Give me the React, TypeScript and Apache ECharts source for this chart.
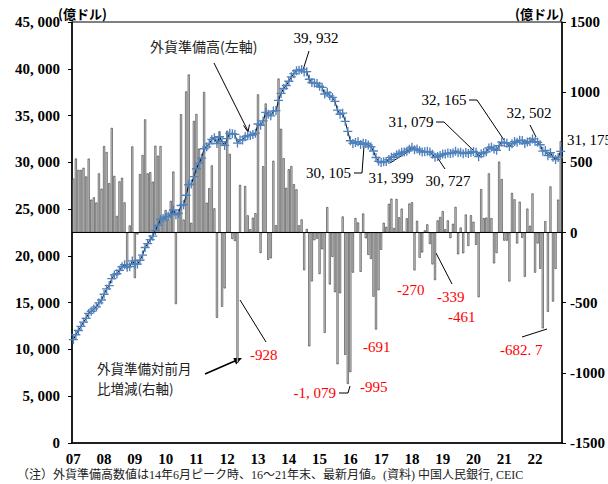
import React, { useEffect, useRef } from "react";
import * as echarts from "echarts";

// Year labels shown on the x axis (January of each year)
const years = ["07", "08", "09", "10", "11", "12", "13", "14", "15", "16", "17", "18", "19", "20", "21", "22"];
const monthsInLastYear = 11; // data ends Nov 2022

// Foreign exchange reserves (億ドル), monthly, Jan 2007 - Nov 2022 (left axis)
const reserves = [
  11047, 11574, 12020, 12466, 12927, 13326, 13852, 14086, 14336, 14549, 14970, 15282,
  15898, 16471, 16822, 17567, 17970, 18088, 18452, 18842, 19056, 18797, 18847, 19460,
  19135, 19121, 19537, 20089, 20895, 21316, 21746, 22108, 22726, 23273, 23888, 23992,
  24152, 24246, 24471, 24905, 24395, 24543, 25386, 25478, 26483, 27609, 27678, 28473,
  29317, 29914, 30447, 31448, 31660, 31975, 32453, 32625, 32017, 32738, 32209, 31811,
  32536, 33096, 33050, 32989, 32061, 32400, 32398, 32729, 32851, 32874, 32979, 33116,
  34100, 33954, 34426, 35345, 35151, 34967, 35478, 35530, 36627, 37366, 37895, 38213,
  38664, 39137, 39481, 39788, 39839, 39932, 39663, 39688, 38877, 38529, 38474, 38430,
  38134, 38015, 37300, 37481, 37111, 36938, 36513, 35574, 35141, 35255, 34383, 33304,
  32309, 32023, 32126, 32197, 31917, 32052, 32011, 31852, 31664, 31207, 30516, 30105,
  29982, 30051, 30091, 30295, 30536, 30568, 30807, 30915, 31085, 31092, 31193, 31399,
  31615, 31345, 31428, 31248, 31106, 31121, 31179, 31097, 30870, 30531, 30617, 30727,
  30879, 30902, 30988, 30948, 31010, 31192, 31037, 31072, 30924, 31052, 30956, 31079,
  31155, 31067, 30606, 30915, 31017, 31123, 31544, 31646, 31426, 31280, 31785, 32165,
  32107, 32049, 31700, 31982, 32218, 32140, 32359, 32321, 32006, 32176, 32224, 32502,
  32216, 32138, 31880, 31197, 31278, 30713, 31041, 30549, 30290, 30524, 31175,
];

// Month-on-month change (億ドル) (right axis)
const changes = [
  384, 527, 446, 446, 461, 399, 526, 234, 250, 213, 421, 312,
  616, 573, 351, 745, 403, 118, 364, 390, 214, -259, 50, 613,
  -325, -14, 416, 552, 806, 421, 430, 362, 618, 547, 615, 104,
  160, 94, 225, 434, -510, 148, 843, 92, 1005, 1126, 69, 795,
  844, 597, 533, 1001, 212, 315, 478, 172, -608, 721, -529, -398,
  725, 560, -46, -61, -928, 339, -2, 331, 122, 23, 105, 137,
  984, -146, 472, 919, -194, -184, 511, 52, 1097, 739, 529, 318,
  451, 473, 344, 307, 51, 93, -269, 25, -811, -348, -55, -44,
  -296, -119, -715, 181, -370, -173, -425, -939, -433, 114, -872, -1079,
  -995, -286, 103, 71, -280, 135, -41, -159, -188, -457, -691, -411,
  -123, 69, 40, 204, 241, 32, 239, 108, 170, 7, 101, 206,
  216, -270, 83, -180, -142, 15, 58, -82, -227, -339, 86, 110,
  152, 23, 86, -40, 62, 182, -155, 35, -148, 128, -96, 123,
  76, -88, -461, 309, 102, 106, 421, 102, -220, -146, 505, 380,
  -58, -58, -349, 282, 236, -78, 219, -38, -315, 170, 48, 278,
  -286, -78, -258, -683, 81, -565, 328, -492, -259, 234, 651,
];

const categories: string[] = [];
years.forEach((y, yi) => {
  const n = yi === years.length - 1 ? monthsInLastYear : 12;
  for (let m = 1; m <= n; m++) categories.push(`20${y}-${String(m).padStart(2, "0")}`);
});

const SERIF = '"Liberation Serif", "Noto Sans CJK JP", serif';
const GOTHIC = '"Noto Sans CJK JP", sans-serif';

const txt = (text: string, x: number, y: number, opts: any = {}) => ({
  type: "text",
  x,
  y,
  silent: true,
  style: {
    text,
    font: opts.font || `15px ${SERIF}`,
    fill: opts.fill || "#000",
    align: opts.align || "left",
    textAlign: opts.align || "left",
    verticalAlign: "middle",
    textVerticalAlign: "middle",
  },
});

const pl = (points: number[][], w = 1) => ({
  type: "polyline",
  silent: true,
  shape: { points },
  style: { stroke: "#000", lineWidth: w, fill: null },
});

const plusSymbol = "path://M-0.9,-6H0.9V-0.9H6V0.9H0.9V6H-0.9V0.9H-6V-0.9H-0.9Z";

export default function App() {
  const ref = useRef<HTMLDivElement>(null);
  useEffect(() => {
    if (!ref.current) return;
    const chart = echarts.init(ref.current, undefined, { renderer: "svg" });
    const red = "#ff0000";
    chart.setOption({
      animation: false,
      backgroundColor: "#fff",
      grid: { left: 72, right: 42, top: 22, bottom: 41, show: true, borderColor: "#000", borderWidth: 1 },
      xAxis: {
        type: "category",
        data: categories,
        boundaryGap: true,
        axisLine: { onZero: false, lineStyle: { color: "#000", width: 1.5 } },
        axisTick: { show: false },
        axisLabel: {
          interval: (i: number) => i % 12 === 0,
          formatter: (v: string) => v.substring(2, 4),
          color: "#000",
          margin: 8,
          fontFamily: SERIF,
          fontSize: 15,
          fontWeight: "bold",
        },
        splitLine: { show: false },
      },
      yAxis: [
        {
          type: "value",
          min: 0,
          max: 45000,
          interval: 5000,
          axisLine: { show: true, lineStyle: { color: "#000", width: 1.5 } },
          axisTick: { show: true, length: 4, lineStyle: { color: "#000" } },
          axisLabel: {
            color: "#000",
            fontFamily: SERIF,
            fontSize: 15,
            fontWeight: "bold",
            margin: 12,
            formatter: (v: number) =>
              v === 0 ? "0" : `${Math.floor(v / 1000)}, ${String(v % 1000).padStart(3, "0")}`,
          },
          splitLine: { show: false },
        },
        {
          type: "value",
          min: -1500,
          max: 1500,
          interval: 500,
          position: "right",
          axisLine: { show: true, lineStyle: { color: "#000", width: 1.5 } },
          axisTick: { show: true, length: 4, lineStyle: { color: "#000" } },
          axisLabel: {
            color: "#000",
            fontFamily: SERIF,
            fontSize: 15,
            fontWeight: "bold",
            margin: 8,
            formatter: (v: number) => String(v),
          },
          splitLine: { show: false },
        },
      ],
      series: [
        {
          type: "bar",
          yAxisIndex: 1,
          data: changes,
          barWidth: 2,
          itemStyle: { color: "#d6d6d6", borderColor: "#111", borderWidth: 0.5 },
          z: 2,
          markLine: {
            silent: true,
            symbol: "none",
            label: { show: false },
            lineStyle: { color: "#000", type: "solid", width: 1 },
            data: [{ yAxis: 0 }],
          },
        },
        {
          type: "line",
          yAxisIndex: 0,
          data: reserves,
          showAllSymbol: true,
          symbol: plusSymbol,
          symbolSize: 9,
          lineStyle: { color: "#000", width: 1 },
          itemStyle: { color: "#4f81bd" },
          z: 3,
        },
      ],
      graphic: [
        txt("(億ドル)", 58, 13, { font: `bold 13px ${GOTHIC}` }),
        txt("(億ドル)", 515, 13, { font: `bold 13px ${GOTHIC}` }),
        txt("外貨準備高(左軸)", 150, 46, { font: `14px ${GOTHIC}`, fill: "#222" }),
        pl([[214, 63], [248, 131]]),
        pl([[243.5, 125.5], [248, 132], [249.5, 124.5]]),
        txt("39, 932", 316, 38, { align: "center" }),
        pl([[309, 51], [303, 70]]),
        txt("30, 105", 351, 173, { align: "right" }),
        pl([[354, 173], [362, 173], [364, 146]]),
        txt("31, 399", 391, 178, { align: "center" }),
        pl([[390, 163], [412, 149]]),
        txt("30, 727", 448, 181, { align: "center" }),
        pl([[437, 157], [445, 169]]),
        txt("31, 079", 411, 122, { align: "center" }),
        pl([[436, 122], [444, 122], [474, 151]]),
        txt("32, 165", 444, 100, { align: "center" }),
        pl([[469, 100], [477, 100], [504, 140]]),
        txt("32, 502", 529, 113, { align: "center" }),
        pl([[530, 125], [536, 137]]),
        txt("31, 175", 567, 140),
        txt("-928", 250, 355, { fill: red }),
        pl([[240, 300], [266, 342]]),
        txt("-1, 079", 336, 393, { fill: red, align: "right" }),
        pl([[339, 393], [348, 393], [350, 386]]),
        txt("-995", 360, 387, { fill: red }),
        txt("-691", 363, 347, { fill: red }),
        txt("-270", 397, 290, { fill: red }),
        txt("-339", 437, 297, { fill: red }),
        pl([[436, 253], [452, 284]]),
        txt("-461", 448, 317, { fill: red }),
        txt("-682. 7", 500, 350, { fill: red }),
        pl([[522, 337], [547, 329]]),
        txt("外貨準備対前月", 97, 368, { font: `13.5px ${GOTHIC}`, fill: "#222" }),
        txt("比増減(右軸)", 97, 388, { font: `13.5px ${GOTHIC}`, fill: "#222" }),
        pl([[205, 374], [236, 360.5]], 1.6),
        {
          type: "polygon",
          silent: true,
          shape: { points: [[242, 358], [233.3, 358.0], [236.1, 364.4]] },
          style: { fill: "#000" },
        },
        txt("（注）外貨準備高数値は14年6月ピーク時、16～21年末、最新月値。(資料) 中国人民銀行, CEIC", 17, 475, {
          font: `12px ${SERIF}`,
          fill: "#222",
        }),
      ],
    });
    return () => chart.dispose();
  }, []);
  return <div ref={ref} style={{ width: 608, height: 484, position: "absolute", left: 0, top: 0 }} />;
}
